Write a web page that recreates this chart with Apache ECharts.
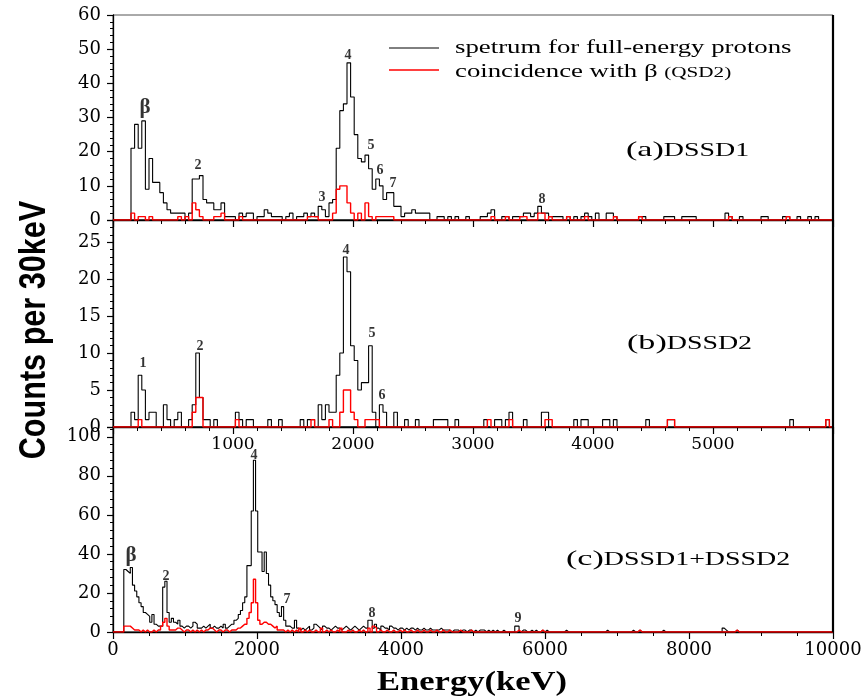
<!DOCTYPE html>
<html><head><meta charset="utf-8">
<script src="https://cdn.jsdelivr.net/npm/echarts@6/dist/echarts.min.js"></script>
<style>html,body{margin:0;padding:0;background:#fff}#c{width:867px;height:696px}</style>
</head><body><div id="c"></div>
<script>
// ---------- data (counts per 30 keV bin, bin start energies in keV) ----------
const BIN_KEV = 30;

// panel (a) DSSD1
const aBlackStart = 150;
const aBlackCounts = [
  21,28,21,29,9,18,11,11,8,5,
  3,2,2,2,2,0,2,12,12,13,
  6,5,5,3,3,5,1,1,1,0,
  2,1,2,2,0,1,1,3,2,1,
  1,1,0,1,2,0,1,1,2,1,
  2,1,4,3,1,5,6,21,32,34,
  46,36,25,18,17,19,15,9,12,10,
  6,8,8,4,4,1,2,2,3,2,
  2,2,2
];
const aBlackExtra = [[2700,1],[2730,1],[2790,1],[2850,1],[2940,1],[3060,1],[3090,1],[3120,2],[3150,3],[3240,1],[3270,1],[3330,1],[3360,1],[3390,1],[3420,2],[3450,2],[3480,1],[3510,2],[3540,4],[3570,2],[3600,2],[3630,1],[3660,1],[3690,1],[3720,1],[3780,1],[3840,1],[3900,1],[3930,2],[3960,1],[4020,2],[4110,2],[4140,2],[4170,1],[4380,1],[4410,1],[4590,1],[4620,1],[4650,1],[4740,1],[4770,1],[4800,1],[4830,1],[5100,2],[5130,1],[5220,1],[5400,1],[5430,1],[5580,1],[5610,1],[5700,1],[5790,1],[5850,1]];
const aRedStart = 1620;
const aRedCounts = [1,1,1,0,0,0,0,2,9,10,10,5,2,0,2,0,5,1,0,1,1,1,1,1];
const aRedExtra = [[150,2],[210,1],[240,1],[300,1],[540,1],[600,1],[660,5],[690,3],[720,1],[840,1],[870,1],[900,2],[1050,1],[3150,1],[3270,1],[3390,1],[3420,1],[3540,2],[3570,2],[3630,1],[3780,1],[3930,1],[4170,1],[4380,1],[5130,1],[5610,1]];

// panel (b) DSSD2
const bBlackStart = 150;
const bBlackCounts = [
  2,1,7,5,1,2,2,0,0,3,
  1,0,1,2,0,0,1,3,10,4,
  1,1,0,1,0,0,0,0,0,2,
  1,0,1,1,0,0,0,0,1,0,
  0,1,0,0,0,0,0,1,0,1,
  1,0,3,1,3,2,2,7,10,23,
  21,11,9,5,6,6,11,2,0,3,
  2,0,0,2,0,0,1,0,0,1,
  0,0,0,0,1,1,1,1,0,0,1
];
const bBlackExtra = [[3090,1],[3180,1],[3210,1],[3270,1],[3300,2],[3420,1],[3570,2],[3600,2],[3840,1],[3900,1],[3930,1],[4080,1],[4110,1],[4170,1],[4440,1],[4620,1],[4650,1],[5640,1],[5940,1]];
const bRedStart = 1800;
const bRedCounts = [1,0,0,2,5,5,2,1,0,0,1,1,1,1];
const bRedExtra = [[210,1],[660,2],[690,4],[720,4],[1020,1],[1650,1],[3120,1],[3300,1],[3600,1],[3630,1],[4620,1],[4650,1],[5940,1]];

// panel (c) DSSD1+DSSD2
const cBlackStart = 150;
const cBlackCounts = [
  32,31,30,33,24,21,18,15,13,10,
  9,8,5,9,4,3,3,3,23,26,
  10,5,7,5,4,6,3,2,3,3,
  2,3,5,4,2,2,3,2,3,4,
  2,3,2,2,3,2,4,2,3,4,
  4,6,7,9,11,15,18,34,34,62,
  88,62,41,41,31,41,30,24,18,16,
  14,10,8,13,6,3,3,2,2,6,
  2,1,2,1,2,3,1,2,4,3,
  2,1,3,2,2,1,2,3,2,2,
  1,2,3,2,1,2,3,2,1,2,
  3,2,2,6,6,2,4,2,1,3,
  2,2,1,3,2,2,1,2,2,1,
  2,1,2,2,1,2,1,1,2,1,
  1,2,1,1,1,1,2,1,1,1,
  1,0,1,1,1,0,1,1,0,1,
  1,0,1,0,1,1,1,0,1,0,
  1
];
const cBlackExtra = [[5310,1],[5400,1],[5580,3],[5610,3],[5670,1],[5700,1],[5790,1],[5850,1],[5940,1],[6000,1],[6270,1],[6840,1],[7200,1],[7290,1],[7620,1],[8460,2],[8490,1],[8640,1]];
const cRedStart = 150;
const cRedCounts = [
  3,3,3,2,1,1,1,0,1,0,
  1,0,0,1,0,1,1,3,5,7,
  3,1,1,1,2,2,1,0,1,1,
  0,1,0,1,0,1,0,1,1,2,
  2,1,0,1,1,0,1,1,0,1,
  1,1,2,2,3,4,4,7,10,15,
  27,15,6,4,5,5,4,4,3,2,
  3,1,1,1
];
const cRedExtra = [[2400,1],[2460,1],[2520,1],[2580,2],[2640,1],[2700,1],[2790,1],[2880,2],[2940,1],[3000,1],[3090,1],[3150,2],[3240,1],[3300,1],[3390,1],[3450,1],[3540,2],[3600,3],[3630,2],[3690,1],[3780,1],[3870,1],[3960,1],[4020,1],[4110,1],[4200,1],[4290,1],[4380,1],[4470,1],[4560,1],[4650,1],[4800,1],[4950,1],[5610,1],[5940,1],[7290,1],[8640,1]];

// axis ranges / ticks
const xRangeAB = [0, 6000], xIntervalAB = 1000;
const xRangeC = [0, 10000], xIntervalC = 2000;
const yA = [0, 60, 10], yB = [0, 28, 5], yC = [0, 105, 20];

// peak annotations [label, energy keV, counts]
const aPeakLabels = [['β',267,33],['2',708,16],['3',1742,6.7],['4',1958,48.3],['5',2150,21.7],['6',2225,14.6],['7',2333,10.8],['8',3575,5.9]];
const bPeakLabels = [['1',250,8.6],['2',725,10.9],['4',1942,23.9],['5',2158,12.7],['6',2242,4.3]];
const cPeakLabels = [['β',250,39],['2',736,28.7],['4',1958,90.3],['7',2417,16.9],['8',3597,9.7],['9',5625,7.2]];

// ---------- build ----------
function hist(start, counts, extra, maxE) {
  const m = new Map();
  counts.forEach((v, i) => m.set(start + i * BIN_KEV, v));
  extra.forEach(([e, v]) => m.set(e, v));
  const pts = [];
  for (let e = 0; e < maxE; e += BIN_KEV) pts.push([e, m.get(e) || 0]);
  pts.push([maxE, 0]);
  return pts;
}

const chart = echarts.init(document.getElementById('c'));
const SERIF = '"Liberation Serif", "Times New Roman", serif';
const TICKFONT = '"DejaVu Serif", serif';

function xAxisDef(gi, range, interval, minorSplit, showLabels) {
  return {
    type: 'value', gridIndex: gi, min: range[0], max: range[1], interval: interval,
    axisLine: { show: true, onZero: false, lineStyle: { color: '#000', width: 1.3 } },
    axisTick: { show: true, length: 7, lineStyle: { color: '#000', width: 1.2 } },
    minorTick: { show: true, splitNumber: minorSplit, length: 4, lineStyle: { color: '#000', width: 1 } },
    splitLine: { show: false },
    axisLabel: showLabels ? {
      show: true, color: '#000', fontFamily: TICKFONT, fontSize: gi === 2 ? 18 : 17, margin: 9,
      formatter: v => (gi === 1 && (v <= range[0] || v >= range[1])) ? '' : String(v)
    } : { show: false }
  };
}
function yAxisDef(gi, r) {
  return {
    type: 'value', gridIndex: gi, min: r[0], max: r[1], interval: r[2],
    axisLine: { show: true, onZero: false, lineStyle: { color: '#000', width: 1.3 } },
    axisTick: { show: true, length: 6, lineStyle: { color: '#000', width: 1.2 } },
    minorTick: { show: true, splitNumber: 5, length: 3, lineStyle: { color: '#000', width: 1 } },
    splitLine: { show: false },
    axisLabel: { color: '#000', fontFamily: TICKFONT, fontSize: 18, margin: 12,
      formatter: v => (v % r[2] === 0) ? String(v) : '' }
  };
}
function stepSeries(idx, data, color, width) {
  return { type: 'line', xAxisIndex: idx, yAxisIndex: idx, data: data, step: 'end',
    showSymbol: false, symbol: 'none', silent: true, animation: false,
    lineStyle: { color: color, width: width }, z: color === '#000' ? 2 : 3 };
}
function labelSeries(idx, arr) {
  return { type: 'scatter', xAxisIndex: idx, yAxisIndex: idx, symbolSize: 1, silent: true, animation: false,
    itemStyle: { color: 'rgba(0,0,0,0)' }, z: 5,
    data: arr.map(([t, e, c]) => ({ name: t, value: [e, c],
      label: { fontSize: t === 'β' ? 21 : 14 } })),
    label: { show: true, position: 'inside', formatter: '{b}', color: '#000',
      fontFamily: SERIF, fontWeight: 'bold', fontSize: 14 } };
}
function panelText(x, y, head, tail) {
  return { type: 'text', x: x, y: y, scaleX: 1.55,
    style: { text: '{p|' + head + '}{q|' + tail + '}', align: 'left', verticalAlign: 'middle',
      rich: { p: { font: '22px ' + SERIF, fill: '#000', verticalAlign: 'bottom', lineHeight: 24 },
              q: { font: '18px ' + SERIF, fill: '#000', verticalAlign: 'bottom', lineHeight: 24, padding: [0, 0, 1, 0] } } } };
}

const option = {
  animation: false,
  backgroundColor: '#fff',
  grid: [
    { left: 113, top: 15, width: 720, height: 205, show: true, borderColor: '#555', borderWidth: 1 },
    { left: 113, top: 220, width: 720, height: 207, show: true, borderColor: '#000', borderWidth: 1 },
    { left: 113, top: 427, width: 720, height: 205, show: true, borderColor: '#000', borderWidth: 1 }
  ],
  xAxis: [
    xAxisDef(0, xRangeAB, xIntervalAB, 5, false),
    xAxisDef(1, xRangeAB, xIntervalAB, 5, true),
    xAxisDef(2, xRangeC, xIntervalC, 4, true)
  ],
  yAxis: [yAxisDef(0, yA), yAxisDef(1, yB), yAxisDef(2, yC)],
  series: [
    stepSeries(0, hist(aBlackStart, aBlackCounts, aBlackExtra, xRangeAB[1]), '#000', 1.1),
    stepSeries(0, hist(aRedStart, aRedCounts, aRedExtra, xRangeAB[1]), '#ff0000', 1.4),
    stepSeries(1, hist(bBlackStart, bBlackCounts, bBlackExtra, xRangeAB[1]), '#000', 1.1),
    stepSeries(1, hist(bRedStart, bRedCounts, bRedExtra, xRangeAB[1]), '#ff0000', 1.4),
    stepSeries(2, hist(cBlackStart, cBlackCounts, cBlackExtra, xRangeC[1]), '#000', 1.1),
    stepSeries(2, hist(cRedStart, cRedCounts, cRedExtra, xRangeC[1]), '#ff0000', 1.4),
    labelSeries(0, aPeakLabels),
    labelSeries(1, bPeakLabels),
    labelSeries(2, cPeakLabels)
  ],
  graphic: [
    { type: 'line', shape: { x1: 833, y1: 15, x2: 833, y2: 632 }, style: { stroke: '#000', lineWidth: 2.2 }, z: 10 },
    { type: 'line', shape: { x1: 389, y1: 48, x2: 439, y2: 48 }, style: { stroke: '#000', lineWidth: 1 } },
    { type: 'line', shape: { x1: 389, y1: 70, x2: 439, y2: 70 }, style: { stroke: '#ff0000', lineWidth: 1.4 } },
    { type: 'text', x: 455, y: 48, scaleX: 1.41,
      style: { text: 'spetrum for full-energy protons', font: '19px ' + SERIF, fill: '#000', align: 'left', verticalAlign: 'middle' } },
    { type: 'text', x: 455, y: 71, scaleX: 1.41,
      style: { text: '{m|coincidence with β }{s|(QSD2)}', fill: '#000', align: 'left', verticalAlign: 'middle',
        rich: { m: { font: '19px ' + SERIF, fill: '#000', verticalAlign: 'bottom', lineHeight: 21 },
                s: { font: '15px ' + SERIF, fill: '#000', verticalAlign: 'bottom', lineHeight: 21, padding: [0, 0, 1, 0] } } } },
    panelText(626, 149, '(a)', 'DSSD1'),
    panelText(627, 342, '(b)', 'DSSD2'),
    panelText(566, 558, '(c)', 'DSSD1+DSSD2'),
    { type: 'text', x: 35, y: 330, rotation: Math.PI / 2, scaleX: 0.85,
      style: { text: 'Counts per 30keV', font: 'bold 36px "Liberation Sans Narrow", "Liberation Sans", sans-serif', fill: '#000', align: 'center', verticalAlign: 'middle' } },
    { type: 'text', x: 472, y: 683, scaleX: 1.28,
      style: { text: 'Energy(keV)', font: 'bold 27px ' + SERIF, fill: '#000', align: 'center', verticalAlign: 'middle' } }
  ]
};
chart.setOption(option);
</script></body></html>
